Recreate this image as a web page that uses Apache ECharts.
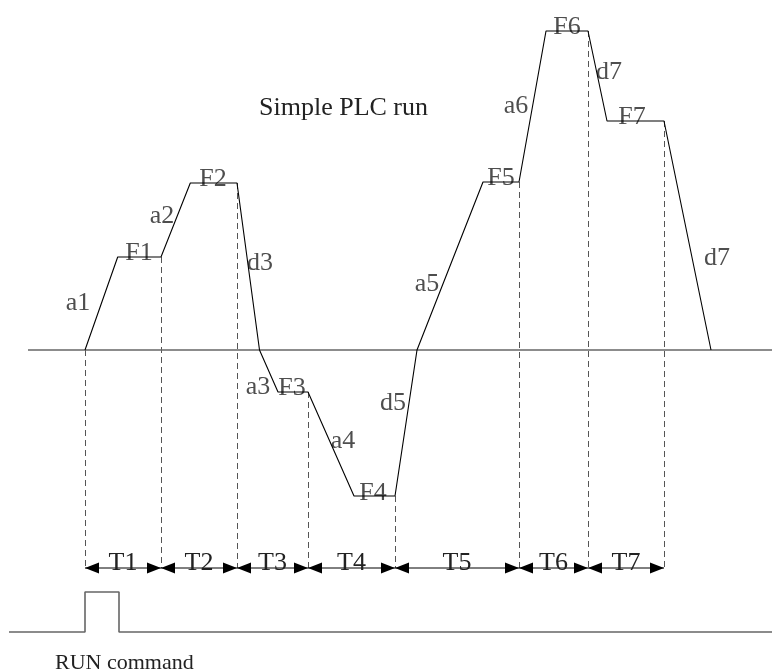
<!DOCTYPE html>
<html><head><meta charset="utf-8">
<script src="https://cdn.jsdelivr.net/npm/echarts@6/dist/echarts.min.js"></script>
<style>html,body{margin:0;padding:0;background:#fff}#c{width:772px;height:671px}</style>
</head><body><div id="c"></div>
<script>
// Frequency profile of the simple PLC run (time, frequency) in diagram units
const profileTime = [85, 117.7, 161, 190.3, 237, 259.5, 278, 308, 354, 395, 417, 483, 519, 546, 588, 607, 664, 711];
const profileFreq = [0, 93, 93, 167, 167, 0, -42, -42, -146, -146, 0, 168, 168, 319, 319, 229, 229, 0];
// Step boundaries and the frequency level where each dashed marker starts
const stepTimes = [85, 161, 237, 308, 395, 519, 588, 664];
const stepFreqs = [0, 93, 167, -42, -146, 168, 319, 229];
const stepNames = ['T1', 'T2', 'T3', 'T4', 'T5', 'T6', 'T7'];
const intervalLevel = -218;
// Annotation labels
const labelNames = ['a1','F1','a2','F2','d3','a3','F3','a4','F4','d5','a5','F5','a6','F6','d7','F7','d7'];
const labelTime = [78, 139, 162, 213, 260, 258, 292, 343, 373, 393, 427, 501, 516, 567, 609, 632, 717];
const labelFreq = [47, 97, 134, 171, 87, -37, -38, -91, -143, -53, 66, 172, 244, 323, 278, 233, 92];
// RUN command signal
const runTime = [9, 85, 85, 119, 119, 772];
const runLevel = [-282, -282, -242, -242, -282, -282];
// Zero-frequency axis
const zeroTime = [28, 772];
const zeroFreq = [0, 0];

const FONT = '"Liberation Serif", "DejaVu Serif", serif';
const TXT = '#222';
const FS = 26;

const chart = echarts.init(document.getElementById('c'), null, {renderer: 'canvas'});

const stepData = stepTimes.map((t, i) => [t, stepFreqs[i]]);
const intervalData = stepNames.map((n, i) => [stepTimes[i], stepTimes[i + 1], n]);
const crisp = v => Math.round(v) + 0.5;

chart.setOption({
  animation: false,
  backgroundColor: '#fff',
  title: [
    {text: 'Simple PLC run', left: 259, top: 95, padding: 0,
     textStyle: {fontFamily: FONT, fontSize: FS, fontWeight: 'normal', color: TXT}},
    {text: 'RUN command', left: 55, top: 652, padding: 0,
     textStyle: {fontFamily: FONT, fontSize: 22, fontWeight: 'normal', color: TXT}}
  ],
  grid: {left: 0, right: 0, top: 0, bottom: 0},
  xAxis: {type: 'value', min: 0, max: 772, show: false},
  yAxis: {type: 'value', min: -321, max: 350, show: false},
  series: [
    {
      type: 'line', data: zeroTime.map((t, i) => [t, zeroFreq[i]]),
      symbol: 'none', lineStyle: {color: '#666', width: 1.6}, silent: true
    },
    {
      type: 'line', data: runTime.map((t, i) => [t, runLevel[i]]),
      symbol: 'none', lineStyle: {color: '#666', width: 1.6}, silent: true
    },
    {
      type: 'custom', data: stepData, silent: true,
      renderItem: function (params, api) {
        const p1 = api.coord([api.value(0), api.value(1)]);
        const p2 = api.coord([api.value(0), intervalLevel]);
        const x = crisp(p1[0]);
        return {type: 'line', shape: {x1: x, y1: p1[1], x2: x, y2: p2[1]},
          style: {stroke: '#555', lineWidth: 1, lineDash: [6, 4]}};
      }
    },
    {
      type: 'line', data: profileTime.map((t, i) => [t, profileFreq[i]]),
      symbol: 'none', lineStyle: {color: '#000', width: 1.1}, silent: true
    },
    {
      type: 'custom', data: intervalData, silent: true,
      encode: {x: [0, 1]},
      renderItem: function (params, api) {
        const a = api.coord([api.value(0), intervalLevel]);
        const b = api.coord([api.value(1), intervalLevel]);
        const y = a[1], L = 14, H = 5.5;
        return {
          type: 'group',
          children: [
            {type: 'line', shape: {x1: a[0], y1: y, x2: b[0], y2: y}, style: {stroke: '#000', lineWidth: 1}},
            {type: 'polygon', shape: {points: [[a[0], y], [a[0] + L, y - H], [a[0] + L, y + H]]}, style: {fill: '#000'}},
            {type: 'polygon', shape: {points: [[b[0], y], [b[0] - L, y - H], [b[0] - L, y + H]]}, style: {fill: '#000'}},
            {type: 'text', style: {text: intervalData[params.dataIndex][2], x: (a[0] + b[0]) / 2, y: y - 5,
              align: 'center', verticalAlign: 'middle', fontFamily: FONT, fontSize: FS, fill: TXT}}
          ]
        };
      }
    },
    {
      type: 'scatter', silent: true, symbolSize: 0,
      data: labelNames.map((n, i) => ({name: n, value: [labelTime[i], labelFreq[i]]})),
      label: {show: true, position: 'inside', formatter: '{b}', fontFamily: FONT, fontSize: FS, color: TXT}
    }
  ]
});
</script>
</body></html>
